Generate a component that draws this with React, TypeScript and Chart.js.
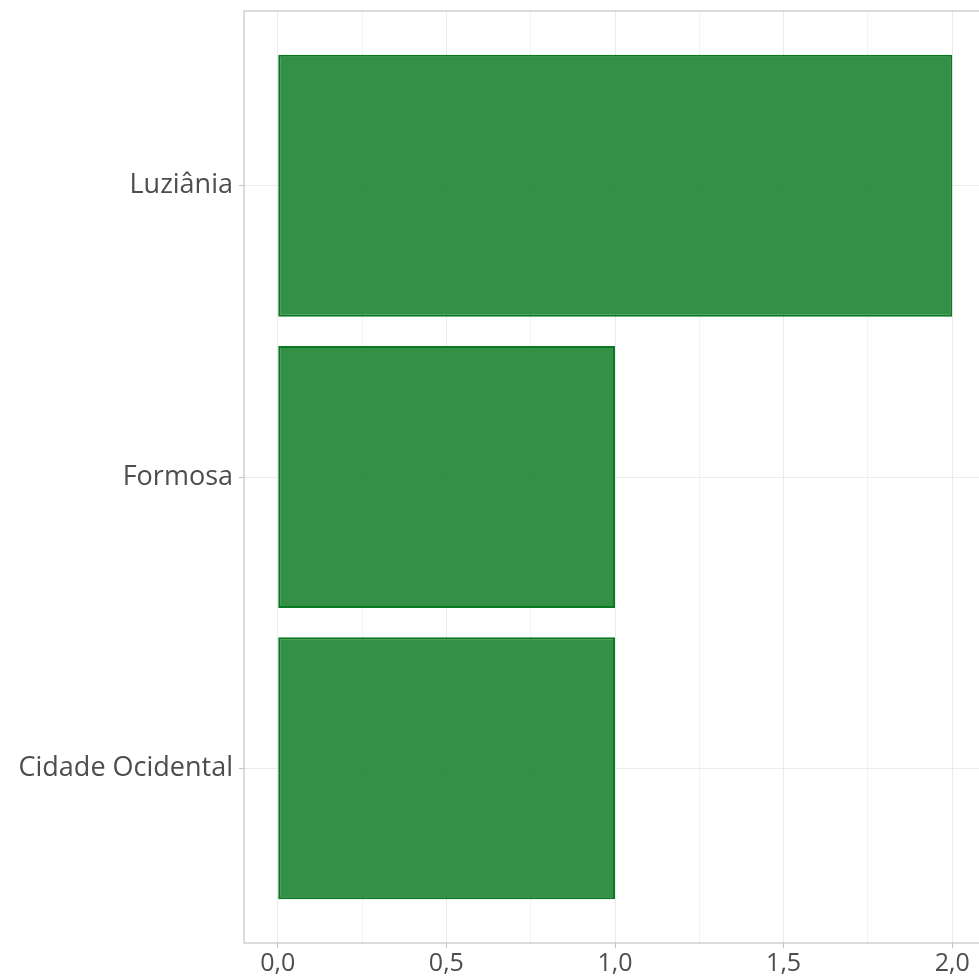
import React, { useEffect, useRef } from "react";
import { Chart, registerables } from "chart.js";
Chart.register(...registerables);

const categories = ["Luziânia", "Formosa", "Cidade Ocidental"];
const values = [2, 1, 1];
const xMajorTicks = [0, 0.5, 1, 1.5, 2];
const xMinorTicks = [0.25, 0.75, 1.25, 1.75];

const FONT = "'Open Sans', 'Noto Sans', sans-serif";
const TEXT = "#4d4d4d";
const GRID = "#ebebeb";
const BORDER = "#c4c4c4";

const borderPlugin = {
  id: "panelBorder",
  afterDraw(chart: any) {
    const { ctx, chartArea: a } = chart;
    ctx.save();
    ctx.strokeStyle = BORDER;
    ctx.lineWidth = 1.2;
    ctx.strokeRect(a.left, a.top, a.right - a.left, a.bottom - a.top);
    ctx.restore();
  },
};

export default function App() {
  const ref = useRef<HTMLCanvasElement>(null);
  useEffect(() => {
    if (!ref.current) return;
    const allX = [...xMajorTicks, ...xMinorTicks].sort((a, b) => a - b);
    const chart = new Chart(ref.current, {
      type: "bar",
      data: {
        datasets: [
          {
            data: values.map((v, i) => ({ x: v, y: i })),
            backgroundColor: "rgba(22,128,42,0.87)",
            borderColor: "#0a7a22",
            borderWidth: 2,
            borderSkipped: false,
            barPercentage: 0.9,
            categoryPercentage: 1,
          },
        ],
      },
      options: {
        indexAxis: "y",
        animation: false,
        responsive: false,
        maintainAspectRatio: false,
        layout: { padding: { top: 11, right: 0, bottom: 0, left: 0 } },
        plugins: { legend: { display: false }, tooltip: { enabled: false } },
        scales: {
          x: {
            type: "linear",
            min: -0.1,
            max: 2.1,
            offset: false,
            afterBuildTicks: (s: any) => {
              s.ticks = allX.map((v) => ({ value: v }));
            },
            afterFit: (s: any) => {
              s.height = 36;
              s.paddingLeft = 0;
              s.paddingRight = 0;
            },
            border: { display: false },
            grid: {
              offset: false,
              color: (c: any) => (xMinorTicks.includes(c.tick?.value) ? "#f3f3f3" : GRID),
              tickColor: (c: any) => (xMinorTicks.includes(c.tick?.value) ? "rgba(0,0,0,0)" : BORDER),
              tickLength: 5,
              lineWidth: 1,
            },
            ticks: {
              autoSkip: false,
              maxRotation: 0,
              padding: 1,
              color: TEXT,
              font: { family: FONT, size: 25 },
              callback: (v: any) =>
                xMajorTicks.includes(Number(v)) ? Number(v).toFixed(1).replace(".", ",") : "",
            },
          },
          y: {
            type: "linear",
            reverse: true,
            offset: false,
            min: -0.6,
            max: categories.length - 1 + 0.6,
            afterBuildTicks: (s: any) => {
              s.ticks = categories.map((_, i) => ({ value: i }));
            },
            afterFit: (s: any) => {
              s.width = 244;
              s.paddingTop = 0;
              s.paddingBottom = 0;
            },
            border: { display: false },
            grid: { offset: false, color: GRID, tickColor: BORDER, tickLength: 5, lineWidth: 1 },
            ticks: {
              autoSkip: false,
              padding: 6,
              color: TEXT,
              font: { family: FONT, size: 27 },
              callback: (v: any) => categories[Number(v)] ?? "",
            },
          },
        },
      },
      plugins: [borderPlugin],
    });
    return () => chart.destroy();
  }, []);
  return (
    <div style={{ position: "fixed", left: 0, top: 0, width: 979, height: 979, overflow: "hidden", background: "#fff" }}>
      <canvas ref={ref} width={986} height={979} style={{ display: "block" }} />
    </div>
  );
}
